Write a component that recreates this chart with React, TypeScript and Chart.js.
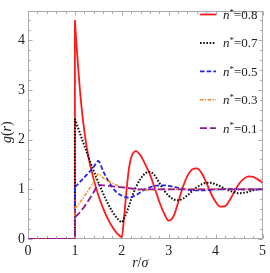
import React, { useEffect, useRef } from "react";
import { Chart, registerables } from "chart.js";
Chart.register(...registerables);

// r/sigma grid for r >= 1 (contact at r = 1)
const rGrid = [1.0, 1.05, 1.1, 1.15, 1.2, 1.25, 1.3, 1.4, 1.5, 1.6, 1.7, 1.8, 1.9, 2.0, 2.05, 2.1, 2.15, 2.2, 2.25, 2.3, 2.4, 2.5, 2.6, 2.7, 2.8, 2.9, 3.0, 3.1, 3.2, 3.3, 3.4, 3.5, 3.6, 3.7, 3.8, 3.9, 4.0, 4.1, 4.2, 4.3, 4.4, 4.5, 4.6, 4.7, 4.8, 4.9, 5.0];
// core region (g = 0)
const coreR = [0, 1];

const g08 = [4.40, 3.70, 3.08, 2.58, 2.18, 1.86, 1.60, 1.20, 0.88, 0.62, 0.41, 0.24, 0.11, 0.04, 0.45, 0.97, 1.40, 1.64, 1.74, 1.77, 1.68, 1.50, 1.30, 1.03, 0.75, 0.52, 0.37, 0.45, 0.73, 1.04, 1.27, 1.40, 1.42, 1.33, 1.14, 0.92, 0.75, 0.65, 0.66, 0.78, 0.95, 1.11, 1.21, 1.26, 1.25, 1.20, 1.13];
const g07 = [2.42, 2.28, 2.15, 2.01, 1.88, 1.75, 1.62, 1.37, 1.14, 0.92, 0.72, 0.55, 0.42, 0.34, 0.42, 0.53, 0.66, 0.80, 0.93, 1.04, 1.21, 1.32, 1.35, 1.28, 1.13, 0.98, 0.87, 0.80, 0.78, 0.81, 0.88, 0.96, 1.04, 1.10, 1.13, 1.13, 1.10, 1.06, 1.01, 0.97, 0.94, 0.92, 0.93, 0.95, 0.98, 1.00, 1.01];
const g05 = [1.05, 1.09, 1.14, 1.19, 1.24, 1.29, 1.34, 1.45, 1.57, 1.37, 1.19, 1.04, 0.93, 0.87, 0.85, 0.84, 0.83, 0.84, 0.86, 0.88, 0.94, 1.00, 1.04, 1.07, 1.08, 1.08, 1.07, 1.05, 1.03, 1.01, 0.99, 0.98, 0.98, 0.98, 0.98, 0.99, 1.00, 1.00, 1.01, 1.01, 1.01, 1.00, 1.00, 1.00, 1.00, 1.00, 1.00];
const g03 = [0.62, 0.67, 0.73, 0.79, 0.86, 0.93, 1.00, 1.15, 1.31, 1.23, 1.17, 1.12, 1.08, 1.05, 1.04, 1.03, 1.02, 1.01, 1.00, 0.99, 0.99, 0.98, 0.99, 0.99, 1.00, 1.00, 1.00, 1.00, 1.00, 1.00, 1.00, 1.00, 1.00, 1.00, 1.00, 1.00, 1.00, 1.00, 1.00, 1.00, 1.00, 1.00, 1.00, 1.00, 1.00, 1.00, 1.00];
const g01 = [0.44, 0.48, 0.53, 0.59, 0.65, 0.72, 0.79, 0.94, 1.09, 1.08, 1.07, 1.06, 1.05, 1.04, 1.035, 1.03, 1.025, 1.02, 1.015, 1.01, 1.00, 1.00, 1.00, 1.00, 1.00, 1.00, 1.00, 1.00, 1.00, 1.00, 1.00, 1.00, 1.00, 1.00, 1.00, 1.00, 1.00, 1.00, 1.00, 1.00, 1.00, 1.00, 1.00, 1.00, 1.00, 1.00, 1.00];

const densityLabels = ["0.8", "0.7", "0.5", "0.3", "0.1"];
const seriesValues = [g08, g07, g05, g03, g01];
const colors = ["#ff1a1a", "#111111", "#2222ee", "#ff8c1a", "#8b1a9b"];
const dashes: number[][] = [[], [1.6, 1.6], [4.5, 2.2], [3.5, 1.5, 1.2, 1.5], [7, 3]];
const widths = [1.8, 2, 1.8, 1.6, 1.8];

const xTicks = [0, 1, 2, 3, 4, 5];
const yTicks = [0, 1, 2, 3, 4];
const xMin = 0, xMax = 5, yMin = 0, yMax = 4.58;

const SERIF = '"Liberation Serif", "Times New Roman", serif';

const framePlugin = {
  id: "framePlugin",
  beforeDatasetsDraw(chart: any) {
    const { ctx, chartArea: a, scales } = chart;
    const L = Math.round(a.left) + 0.5, R = Math.round(a.right) - 0.5;
    const T = Math.round(a.top) + 0.5, B = Math.round(a.bottom) - 0.5;
    ctx.save();
    ctx.strokeStyle = "#aaaaaa";
    ctx.lineWidth = 1;
    ctx.strokeRect(L, T, R - L, B - T);
    const xs = scales.x, ys = scales.y;
    ctx.beginPath();
    for (let v = xMin; v <= xMax + 1e-9; v += 0.2) {
      const major = Math.abs(v - Math.round(v)) < 1e-6;
      const len = major ? 4 : 2.5;
      const px = Math.round(xs.getPixelForValue(v)) + 0.5;
      ctx.moveTo(px, B); ctx.lineTo(px, B - len);
      ctx.moveTo(px, T); ctx.lineTo(px, T + len);
    }
    for (let v = yMin; v <= yMax + 1e-9; v += 0.2) {
      const major = Math.abs(v - Math.round(v)) < 1e-6;
      const len = major ? 4 : 2.5;
      const py = Math.round(ys.getPixelForValue(v)) + 0.5;
      ctx.moveTo(L, py); ctx.lineTo(L + len, py);
      ctx.moveTo(R, py); ctx.lineTo(R - len, py);
    }
    ctx.stroke();
    ctx.restore();
  },
  afterDraw(chart: any) {
    const { ctx, chartArea: a } = chart;
    ctx.save();
    // legend
    const x0 = 200, x1 = 216, tx = 223, y0 = 14.5, dy = 28.4;
    densityLabels.forEach((lab, i) => {
      const y = y0 + i * dy;
      ctx.strokeStyle = colors[i];
      ctx.lineWidth = widths[i];
      ctx.setLineDash(dashes[i]);
      ctx.beginPath();
      ctx.moveTo(x0, y); ctx.lineTo(x1, y);
      ctx.stroke();
      ctx.setLineDash([]);
      ctx.fillStyle = "#222";
      ctx.textBaseline = "middle";
      ctx.textAlign = "left";
      let x = tx;
      ctx.font = `italic 13px ${SERIF}`;
      ctx.fillText("n", x, y + 1);
      x += ctx.measureText("n").width;
      ctx.font = `9px ${SERIF}`;
      ctx.fillText("*", x, y - 2);
      x += ctx.measureText("*").width;
      ctx.font = `13px ${SERIF}`;
      ctx.fillText("=" + lab, x, y + 1);
    });
    // x-axis title r/σ
    ctx.fillStyle = "#222";
    ctx.textBaseline = "alphabetic";
    ctx.textAlign = "left";
    const parts: [string, string][] = [["r", "italic"], ["/", "normal"], ["σ", "italic"]];
    let wTot = 0;
    parts.forEach(([s, st]) => { ctx.font = `${st} 14px ${SERIF}`; wTot += ctx.measureText(s).width; });
    let x = (a.left + a.right) / 2 - 5 - wTot / 2;
    parts.forEach(([s, st]) => { ctx.font = `${st} 14px ${SERIF}`; ctx.fillText(s, x, 267); x += ctx.measureText(s).width; });
    // y-axis title g(r)
    ctx.translate(11, (a.top + a.bottom) / 2 + 7);
    ctx.rotate(-Math.PI / 2);
    const yparts: [string, string][] = [["g", "italic"], ["(", "normal"], ["r", "italic"], [")", "normal"]];
    wTot = 0;
    yparts.forEach(([s, st]) => { ctx.font = `${st} 14px ${SERIF}`; wTot += ctx.measureText(s).width; });
    x = -wTot / 2;
    yparts.forEach(([s, st]) => { ctx.font = `${st} 14px ${SERIF}`; ctx.fillText(s, x, 0); x += ctx.measureText(s).width; });
    ctx.restore();
  },
};

export default function App() {
  const ref = useRef<HTMLCanvasElement | null>(null);
  useEffect(() => {
    document.body.style.margin = "0";
    const canvas = ref.current!;
    const datasets: any[] = [];
    // draw order: red bottom ... purple top -> dataset index 0 is drawn on top, so reverse
    for (let i = seriesValues.length - 1; i >= 0; i--) {
      const vals = seriesValues[i];
      const common = {
        borderColor: colors[i],
        borderWidth: widths[i],
        borderDash: dashes[i],
        pointRadius: 0,
        fill: false,
      };
      datasets.push({
        ...common,
        label: "n*=" + densityLabels[i],
        data: rGrid.map((r, k) => ({ x: r, y: vals[k] })),
        cubicInterpolationMode: "monotone",
      });
      datasets.push({
        ...common,
        label: "core " + densityLabels[i],
        data: [{ x: coreR[0], y: 0 }, { x: coreR[1], y: 0 }, { x: rGrid[0], y: vals[0] }],
        tension: 0,
      });
    }
    const chart = new Chart(canvas, {
      type: "line",
      data: { datasets },
      options: {
        animation: false,
        responsive: false,
        maintainAspectRatio: false,
        parsing: false as any,
        layout: { padding: { top: 1, right: 2, left: 0, bottom: 0 } },
        plugins: { legend: { display: false }, tooltip: { enabled: false } },
        scales: {
          x: {
            type: "linear",
            min: xMin,
            max: xMax,
            grid: { display: false, drawTicks: false },
            border: { display: false },
            afterBuildTicks: (s: any) => { s.ticks = xTicks.map((v) => ({ value: v })); },
            afterFit: (s: any) => { s.height = 34; },
            ticks: { padding: 4, color: "#222", font: { family: SERIF, size: 14 }, maxRotation: 0 },
          },
          y: {
            type: "linear",
            min: yMin,
            max: yMax,
            grid: { display: false, drawTicks: false },
            border: { display: false },
            afterBuildTicks: (s: any) => { s.ticks = yTicks.map((v) => ({ value: v })); },
            afterFit: (s: any) => { s.width = 28; },
            ticks: { padding: 3, color: "#222", font: { family: SERIF, size: 14 } },
          },
        },
      },
      plugins: [framePlugin],
    });
    return () => chart.destroy();
  }, []);
  return <canvas ref={ref} width={270} height={273} style={{ display: "block" }} />;
}
